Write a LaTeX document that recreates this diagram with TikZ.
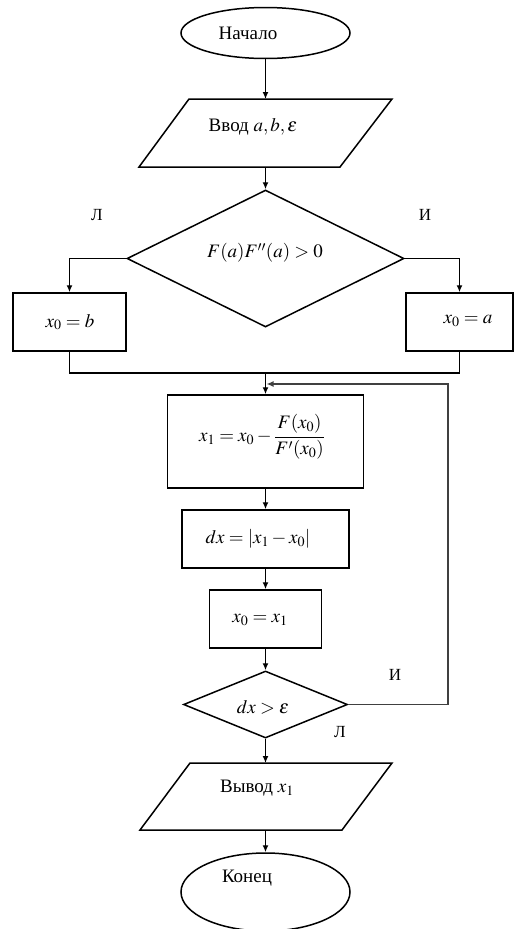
\documentclass[tikz,border=0pt]{standalone}
\usepackage{mathptmx}
\usepackage{fontspec}
\setmainfont{Liberation Serif}
\usetikzlibrary{shapes.geometric,arrows.meta}
\tikzset{
  box/.style={draw,rectangle,inner sep=0pt},
  oval/.style={draw,ellipse,inner sep=0pt,minimum width=169pt},
  decide/.style={draw,diamond,inner sep=0pt},
  txt/.style={inner sep=0pt,font=\fontsize{19}{22}\selectfont},
  lbl/.style={inner sep=0pt,font=\fontsize{17}{20}\selectfont},
  arr/.style={-{Latex[length=7pt,width=6pt]}},
  loopline/.style={-{Latex[length=7pt,width=6pt]},draw=black!75},
}
\begin{document}
\begin{tikzpicture}[x=1pt,y=-1pt,line width=1.5pt]
\useasboundingbox[fill=white] (0,0) rectangle (514,929);

% start
\node[oval,minimum height=51pt] (start) at (265.5,33) {};
\node[txt] (startT) at (248,33) {Начало};

% input
\draw (189,99) -- (392,99) -- (340,167) -- (139,167) -- cycle;
\coordinate (intop) at (265.5,99);
\coordinate (inbot) at (265.5,167);
\node[txt] (inT) at (253,127) {Ввод $a,b,\varepsilon$};

% decision 1
\node[decide,minimum width=277pt,minimum height=137pt] (d1) at (265.5,258.5) {};
\node[txt] (d1T) at (265,253) {$F(a)F''(a)>0$};
\node[lbl] (d1L) at (97,215) {Л};
\node[lbl] (d1I) at (425,215) {И};

% branch boxes
\node[box,minimum width=113pt,minimum height=58pt] (bl) at (69.5,322) {};
\node[txt] (blT) at (70,322) {$x_0=b$};
\node[box,minimum width=107pt,minimum height=58pt] (br) at (459.5,322) {};
\node[txt] (brT) at (468,321) {$x_0=a$};

% merge
\coordinate (m) at (265.5,373);

% calc box
\node[box,minimum width=196pt,minimum height=93pt] (calc) at (265.5,441.5) {};
\node[txt] (calcT) at (262,437) {$\displaystyle x_1=x_0-\frac{F(x_0)}{F'(x_0)}$};

% dx box
\node[box,minimum width=167pt,minimum height=58pt] (dx) at (265.5,539) {};
\node[txt] (dxT) at (258,539) {$dx=\left|x_1-x_0\right|$};

% assign box
\node[box,minimum width=112pt,minimum height=58pt] (asg) at (265.5,619) {};
\node[txt] (asgT) at (260,620) {$x_0=x_1$};

% decision 2
\node[decide,minimum width=164pt,minimum height=67pt] (d2) at (265.5,704.5) {};
\node[txt] (d2T) at (263,707) {$dx>\varepsilon$};
\node[lbl] (d2I) at (395,675) {И};
\node[lbl] (d2L) at (340,732) {Л};

% output
\draw (190,763) -- (392,763) -- (342,830) -- (140,830) -- cycle;
\coordinate (outtop) at (265.5,763);
\coordinate (outbot) at (265.5,830);
\node[txt] (outT) at (257,788) {Вывод $x_1$};

% end
\node[oval,minimum height=78pt] (end) at (265.5,892) {};
\node[txt] (endT) at (247,878) {Конец};

% connectors
\draw[arr] (start.south) -- (intop);
\draw[arr] (inbot) -- (d1.north);
\draw[arr] (d1.west) -| (bl.north);
\draw[arr] (d1.east) -| (br.north);
\draw (bl.south) |- (m) -| (br.south);
\draw[arr] (m) -- (calc.north);
\draw[arr] (calc.south) -- (dx.north);
\draw[arr] (dx.south) -- (asg.north);
\draw[arr] (asg.south) -- (d2.north);
\draw[arr] (d2.south) -- (outtop);
\draw[arr] (outbot) -- (end.north);
\coordinate (lr) at (448,384);
\coordinate (le) at (266.5,384);
\draw[loopline] (d2.east) -| (lr) -- (le);
\end{tikzpicture}
\end{document}
